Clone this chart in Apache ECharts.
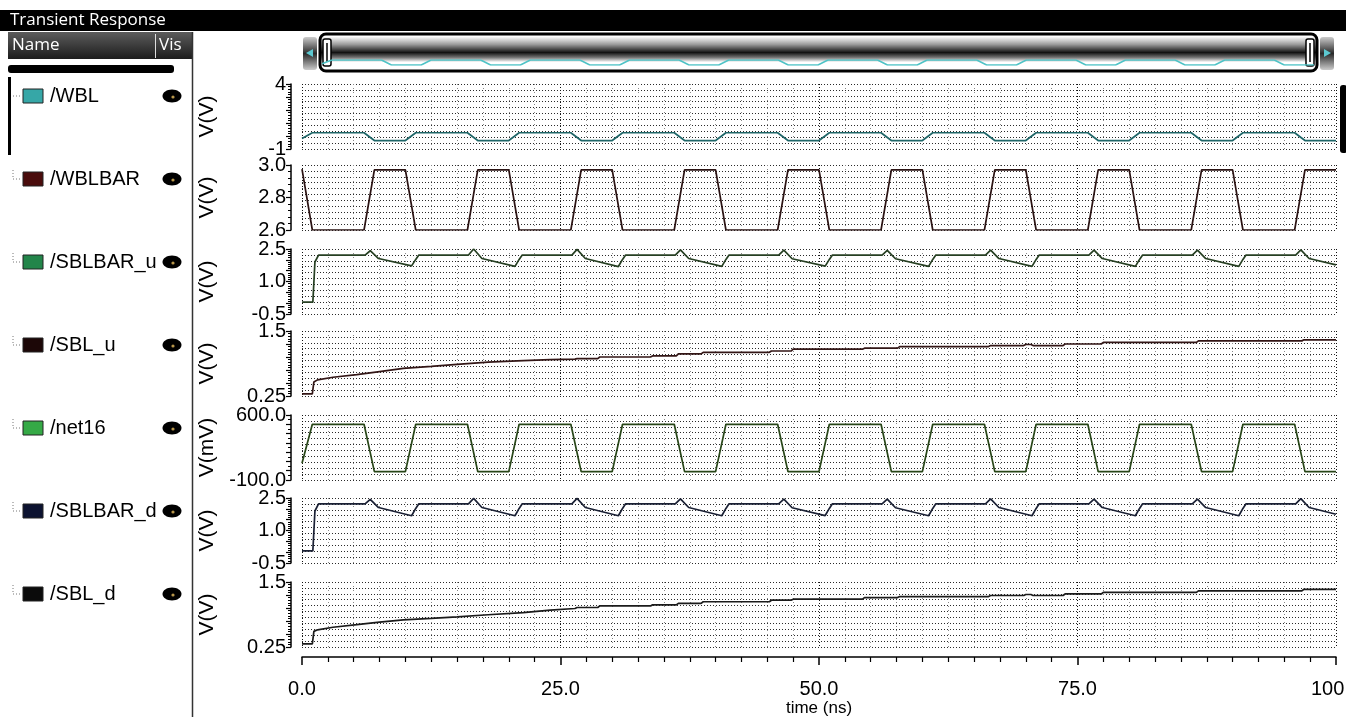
<!DOCTYPE html>
<html><head><meta charset="utf-8">
<script src="https://cdn.jsdelivr.net/npm/echarts@6/dist/echarts.min.js"></script>
<style>html,body{margin:0;padding:0;background:#fff}#c{width:1346px;height:717px}</style>
</head><body><div id="c"></div>
<script>
// ---------------- DATA ----------------
const signalNames = ['/WBL', '/WBLBAR', '/SBLBAR_u', '/SBL_u', '/net16', '/SBLBAR_d', '/SBL_d'];
const yTitles = ['V(V)', 'V(V)', 'V(V)', 'V(V)', 'V(mV)', 'V(V)', 'V(V)'];
const xTickValues = [0, 25, 50, 75, 100];
const yLabelVals = [[-1, 4], [2.6, 2.8, 3.0], [-0.5, 1.0, 2.5], [0.25, 1.5], [-100, 600], [-0.5, 1.0, 2.5], [0.25, 1.5]];

// edge times (ns) for the square-ish signals WBL / WBLBAR / net16
const edgeT = [0, 1, 6, 7, 10, 11, 16, 17, 20, 21, 26, 27, 30, 31, 36, 37, 40, 41, 46, 47, 50, 51, 56, 57, 60, 61, 66, 67, 70, 71, 76, 77, 80, 81, 86, 87, 90, 91, 96, 97, 100];
const wblV = [-0.2,
  0.25, 0.25, -0.35, -0.35, 0.25, 0.25, -0.35, -0.35, 0.25, 0.25, -0.35, -0.35, 0.25, 0.25, -0.35, -0.35,
  0.25, 0.25, -0.35, -0.35, 0.25, 0.25, -0.35, -0.35, 0.25, 0.25, -0.35, -0.35, 0.25, 0.25, -0.35, -0.35,
  0.25, 0.25, -0.35, -0.35, 0.25, 0.25, -0.35, -0.35];
const wblbarV = [2.975,
  2.6, 2.6, 2.97, 2.97, 2.6, 2.6, 2.97, 2.97, 2.6, 2.6, 2.97, 2.97, 2.6, 2.6, 2.97, 2.97,
  2.6, 2.6, 2.97, 2.97, 2.6, 2.6, 2.97, 2.97, 2.6, 2.6, 2.97, 2.97, 2.6, 2.6, 2.97, 2.97,
  2.6, 2.6, 2.97, 2.97, 2.6, 2.6, 2.97, 2.97];
const net16V = [80,
  500, 500, -10, -10, 500, 500, -10, -10, 500, 500, -10, -10, 500, 500, -10, -10,
  500, 500, -10, -10, 500, 500, -10, -10, 500, 500, -10, -10, 500, 500, -10, -10,
  500, 500, -10, -10, 500, 500, -10, -10];

// SBLBAR_u / SBLBAR_d breakpoints
const sblbarT = [0, 1.05, 1.25, 1.6,
  6.1, 6.6, 7.4, 10.6, 11.0, 11.3, 16.1, 16.6, 17.4, 20.6, 21.0, 21.3,
  26.1, 26.6, 27.4, 30.6, 31.0, 31.3, 36.1, 36.6, 37.4, 40.6, 41.0, 41.3,
  46.1, 46.6, 47.4, 50.6, 51.0, 51.3, 56.1, 56.6, 57.4, 60.6, 61.0, 61.3,
  66.1, 66.6, 67.4, 70.6, 71.0, 71.3, 76.1, 76.6, 77.4, 80.6, 81.0, 81.3,
  86.1, 86.6, 87.4, 90.6, 91.0, 91.3, 96.1, 96.6, 97.4, 100];
const sblbarUV = [0.05, 0.05, 1.9, 2.22,
  2.22, 2.42, 2.06, 1.72, 2.02, 2.22, 2.22, 2.5, 2.06, 1.7, 2.02, 2.22,
  2.22, 2.48, 2.06, 1.69, 2.02, 2.22, 2.22, 2.46, 2.06, 1.7, 2.02, 2.22,
  2.22, 2.45, 2.05, 1.71, 2.02, 2.22, 2.22, 2.44, 2.05, 1.7, 2.02, 2.22,
  2.22, 2.45, 2.06, 1.7, 2.02, 2.22, 2.22, 2.45, 2.06, 1.7, 2.02, 2.22,
  2.22, 2.45, 2.06, 1.7, 2.02, 2.22, 2.22, 2.46, 2.06, 1.77];
const sblbarDV = [0.06, 0.06, 1.9, 2.23,
  2.23, 2.44, 2.06, 1.68, 2.02, 2.23, 2.23, 2.48, 2.06, 1.68, 2.02, 2.23,
  2.23, 2.48, 2.06, 1.68, 2.02, 2.23, 2.23, 2.46, 2.06, 1.68, 2.02, 2.23,
  2.23, 2.45, 2.05, 1.69, 2.02, 2.23, 2.23, 2.45, 2.05, 1.68, 2.02, 2.23,
  2.23, 2.46, 2.06, 1.68, 2.02, 2.23, 2.23, 2.45, 2.06, 1.68, 2.02, 2.23,
  2.23, 2.45, 2.06, 1.68, 2.02, 2.23, 2.23, 2.47, 2.06, 1.75];

// SBL_u / SBL_d staircase breakpoints
const stairT = [0, 1.0, 1.15, 1.5, 3, 5.3, 7.5, 9.8, 12.5, 15, 18, 21.4, 24,
  26.4, 26.6, 28.6, 28.8, 33.7, 33.9, 36.2, 36.4, 38.6, 38.8, 45.2, 45.4, 47.3, 47.5,
  54.2, 54.4, 57.6, 57.8, 66.4, 66.6, 69.8, 70.0, 70.5, 70.7, 73.6, 73.8, 77.3, 77.5,
  86.5, 86.7, 96.7, 96.9, 100];
const sblUV = [0.29, 0.29, 0.52, 0.56, 0.61, 0.66, 0.72, 0.78, 0.82, 0.86, 0.9, 0.93, 0.95,
  0.96, 0.97, 0.97, 1.0, 1.0, 1.02, 1.02, 1.06, 1.06, 1.09, 1.09, 1.115, 1.115, 1.15,
  1.15, 1.17, 1.17, 1.2, 1.2, 1.22, 1.22, 1.24, 1.24, 1.22, 1.22, 1.25, 1.25, 1.28,
  1.28, 1.31, 1.31, 1.33, 1.33];
const sblDV = [0.31, 0.31, 0.55, 0.58, 0.63, 0.68, 0.73, 0.77, 0.8, 0.83, 0.87, 0.91, 0.96,
  0.99, 1.01, 1.01, 1.04, 1.04, 1.06, 1.06, 1.09, 1.09, 1.12, 1.12, 1.15, 1.15, 1.17,
  1.17, 1.2, 1.2, 1.22, 1.22, 1.24, 1.24, 1.26, 1.26, 1.24, 1.24, 1.27, 1.27, 1.30,
  1.30, 1.33, 1.33, 1.36, 1.36];

// ---------------- STYLE / LAYOUT ----------------
const lineColors = ['#1f6668', '#2a1212', '#263f22', '#331616', '#284618', '#1a2034', '#1b1b1b'];
const swatchColors = ['#36a7a7', '#4a0c0c', '#23854a', '#1c0707', '#35a946', '#0c1230', '#0b0b0b'];
const panelTops = [84, 165, 249, 331, 415, 498, 582];
const panelH = 65;
const axisRanges = [[-1, 4, 1, 5], [2.6, 3.0, 0.2, 5], [-0.5, 2.5, 0.5, 5], [0.25, 1.5, 0.25, 5], [-100, 600, 100, 2], [-0.5, 2.5, 0.5, 5], [0.25, 1.5, 0.25, 5]];
const yDecimals = [0, 1, 1, -1, 1, 1, -1];
const FONT = '"Liberation Sans", Arial, sans-serif';

const seriesSets = [
  [edgeT, wblV], [edgeT, wblbarV], [sblbarT, sblbarUV], [stairT, sblUV],
  [edgeT, net16V], [sblbarT, sblbarDV], [stairT, sblDV]
];
const zip = (t, v) => t.map((x, i) => [x, v[i]]);

function yFmt(i, v) {
  if (!yLabelVals[i].some(l => Math.abs(l - v) < 1e-6)) return '';
  if (yDecimals[i] < 0) return String(+v.toFixed(2));
  return v.toFixed(yDecimals[i]);
}

const grid = [], xAxis = [], yAxis = [], series = [];
for (let i = 0; i < 7; i++) {
  grid.push({ left: 302, right: 10, top: panelTops[i], height: panelH, containLabel: false, outerBoundsMode: 'none' });
  const last = i === 6;
  xAxis.push({
    type: 'value', gridIndex: i, min: 0, max: 100, interval: 25,
    axisLine: { show: last, onZero: false, lineStyle: { color: '#000', width: 1.5 } },
    offset: last ? 10 : 0,
    axisTick: { show: last, length: 8, lineStyle: { color: '#000', width: 1.5 } },
    minorTick: { show: last, splitNumber: 10, length: 5, lineStyle: { color: '#000', width: 1.2 } },
    axisLabel: {
      show: last, margin: 22, fontSize: 20, fontFamily: FONT, color: '#000', hideOverlap: false,
      formatter: v => xTickValues.includes(v) ? v.toFixed(1) : ''
    },
    name: last ? 'time (ns)' : '', nameLocation: 'middle', nameGap: 41,
    nameTextStyle: { fontSize: 17, fontFamily: FONT, color: '#000' },
    splitLine: { show: true, lineStyle: { color: '#111', width: 1, type: [1, 2] } },
    minorSplitLine: { show: true, lineStyle: { color: '#8a8a8a', width: 1, type: [1, 3] } }
  });
  const r = axisRanges[i];
  yAxis.push({
    type: 'value', gridIndex: i, min: r[0], max: r[1], interval: r[2], position: 'left', offset: 11,
    axisLine: { show: true, onZero: false, lineStyle: { color: '#000', width: 1.5 } },
    axisTick: { show: true, length: 5, lineStyle: { color: '#000', width: 1.2 } },
    minorTick: { show: true, splitNumber: r[3], length: 3, lineStyle: { color: '#000', width: 1 } },
    axisLabel: {
      margin: 5, fontSize: 20, fontFamily: FONT, color: '#000', showMinLabel: true, showMaxLabel: true,
      padding: [6, 0, 0, 0], formatter: v => yFmt(i, v)
    },
    splitLine: { show: false },
    name: yTitles[i], nameLocation: 'middle', nameRotate: 90, nameGap: 73,
    nameTextStyle: { fontSize: 21, fontFamily: FONT, color: '#000' }
  });
  series.push({
    type: 'line', name: signalNames[i], xAxisIndex: i, yAxisIndex: i,
    data: zip(seriesSets[i][0], seriesSets[i][1]), showSymbol: false, symbol: 'none',
    lineStyle: { color: lineColors[i], width: 1.7 }, animation: false, z: 3
  });
}
// helper axes for the dotted horizontal grid of each panel
for (let i = 0; i < 7; i++) {
  yAxis.push({
    type: 'value', gridIndex: i, min: 0, max: 11, interval: 1, position: 'right',
    axisLine: { show: false }, axisTick: { show: false }, axisLabel: { show: false },
    splitLine: { show: true, lineStyle: { color: '#2a2a2a', width: 1, type: [1, 2] } }
  });
}
// overview strip (range navigator) showing /WBL
grid.push({ left: 322, right: 32, top: 60, height: 5, containLabel: false, outerBoundsMode: 'none' });
xAxis.push({ type: 'value', gridIndex: 7, min: 0, max: 100, show: false });
yAxis.push({ type: 'value', gridIndex: 7, min: -0.35, max: 0.25, show: false });
series.push({
  type: 'line', xAxisIndex: 7, yAxisIndex: 14, data: zip(edgeT, wblV), showSymbol: false, symbol: 'none',
  lineStyle: { color: '#4fc3c6', width: 1.5 }, animation: false, z: 5, silent: true
});

// ---------------- GRAPHICS (window chrome) ----------------
const g = [];
g.push({ type: 'rect', shape: { x: 0, y: 10, width: 1346, height: 21 }, style: { fill: '#000' }, z: 0 });
g.push({ type: 'text', x: 10, y: 20.5, style: { text: 'Transient Response', fill: '#fff', font: '17px "Open Sans", "Noto Sans", sans-serif', textVerticalAlign: 'middle' }, z: 1 });
g.push({ type: 'rect', shape: { x: 8, y: 32, width: 184, height: 27 }, style: { fill: new echarts.graphic.LinearGradient(0, 0, 0, 1, [{ offset: 0, color: '#5c5c5c' }, { offset: 1, color: '#1c1c1c' }]) }, z: 0 });
g.push({ type: 'text', x: 12, y: 45, style: { text: 'Name', fill: '#fff', font: '17px "Open Sans", "Noto Sans", sans-serif', textVerticalAlign: 'middle' }, z: 1 });
g.push({ type: 'line', shape: { x1: 155.5, y1: 34, x2: 155.5, y2: 58 }, style: { stroke: '#ddd', lineWidth: 1 }, z: 1 });
g.push({ type: 'text', x: 159, y: 45, style: { text: 'Vis', fill: '#fff', font: '17px "Open Sans", "Noto Sans", sans-serif', textVerticalAlign: 'middle' }, z: 1 });
g.push({ type: 'rect', shape: { x: 8, y: 65, width: 166, height: 8, r: 3 }, style: { fill: '#000' }, z: 0 });
g.push({ type: 'rect', shape: { x: 8, y: 77, width: 3, height: 78 }, style: { fill: '#000' }, z: 0 });
g.push({ type: 'line', shape: { x1: 192.5, y1: 32, x2: 192.5, y2: 717 }, style: { stroke: '#333', lineWidth: 1.5 }, z: 0 });
for (let i = 0; i < 7; i++) {
  const cy = 96 + 83 * i;
  if (i > 0) g.push({ type: 'polyline', shape: { points: [[13, cy - 9], [13, cy], [21, cy]] }, style: { stroke: '#777', lineWidth: 1, lineDash: [1, 2], fill: null }, z: 1 });
  else g.push({ type: 'line', shape: { x1: 13, y1: cy, x2: 21, y2: cy }, style: { stroke: '#777', lineWidth: 1, lineDash: [1, 2] }, z: 1 });
  g.push({ type: 'rect', shape: { x: 23, y: cy - 7, width: 20, height: 14 }, style: { fill: swatchColors[i], stroke: '#222', lineWidth: 1 }, z: 1 });
  g.push({ type: 'text', x: 50, y: cy, style: { text: signalNames[i], fill: '#000', font: '20px "Liberation Sans", Arial, sans-serif', textVerticalAlign: 'middle' }, z: 1 });
  g.push({ type: 'ellipse', shape: { cx: 172, cy: cy, rx: 9.5, ry: 6.5 }, style: { fill: '#000' }, z: 1 });
  g.push({ type: 'circle', shape: { cx: 173, cy: cy + 1, r: 1.6 }, style: { fill: '#b8964a' }, z: 2 });
}
// overview navigator bar
const barGrad = new echarts.graphic.LinearGradient(0, 0, 0, 1, [
  { offset: 0, color: '#ffffff' }, { offset: 0.1, color: '#ffffff' }, { offset: 0.3, color: '#9a9a9a' },
  { offset: 0.5, color: '#121212' }, { offset: 0.62, color: '#707070' }, { offset: 0.74, color: '#ffffff' },
  { offset: 1, color: '#ffffff' }]);
const boxGrad = () => new echarts.graphic.LinearGradient(0, 0, 0, 1, [{ offset: 0, color: '#ccc' }, { offset: 0.5, color: '#2a2a2a' }, { offset: 1, color: '#ccc' }]);
g.push({ type: 'rect', shape: { x: 303, y: 37, width: 14, height: 33, r: 3 }, style: { fill: boxGrad() }, z: 0 });
g.push({ type: 'polygon', shape: { points: [[306, 53], [313, 49], [313, 57]] }, style: { fill: '#5cc8d0' }, z: 1 });
g.push({ type: 'rect', shape: { x: 320, y: 34, width: 997, height: 37, r: 6 }, style: { fill: barGrad, stroke: '#000', lineWidth: 3 }, z: 0 });
g.push({ type: 'rect', shape: { x: 323, y: 39, width: 8, height: 27, r: 2 }, style: { fill: '#fff', stroke: '#000', lineWidth: 1.5 }, z: 1 });
g.push({ type: 'line', shape: { x1: 327, y1: 43, x2: 327, y2: 62 }, style: { stroke: '#000', lineWidth: 1.5 }, z: 2 });
g.push({ type: 'rect', shape: { x: 1306, y: 39, width: 8, height: 27, r: 2 }, style: { fill: '#fff', stroke: '#000', lineWidth: 1.5 }, z: 1 });
g.push({ type: 'line', shape: { x1: 1310, y1: 43, x2: 1310, y2: 62 }, style: { stroke: '#000', lineWidth: 1.5 }, z: 2 });
g.push({ type: 'rect', shape: { x: 1320, y: 37, width: 14, height: 33, r: 3 }, style: { fill: boxGrad() }, z: 0 });
g.push({ type: 'polygon', shape: { points: [[1331, 53], [1324, 49], [1324, 57]] }, style: { fill: '#5cc8d0' }, z: 1 });
g.push({ type: 'rect', shape: { x: 1340, y: 85, width: 7, height: 68, r: 3 }, style: { fill: '#000' }, z: 0 });

const chart = echarts.init(document.getElementById('c'), null, { renderer: 'canvas' });
chart.setOption({
  animation: false, backgroundColor: '#fff',
  grid, xAxis, yAxis, series,
  graphic: { elements: g }
});
</script></body></html>
